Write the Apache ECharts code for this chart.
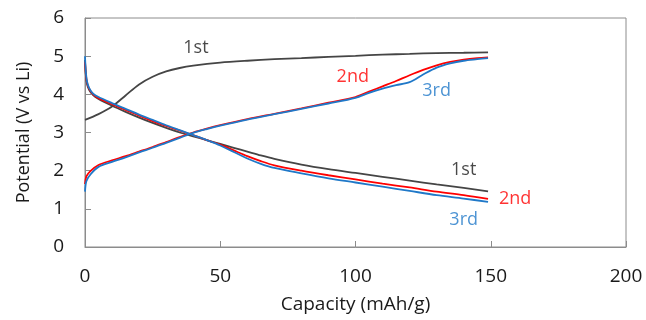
<!DOCTYPE html>
<html>
<head>
<meta charset="utf-8">
<script src="https://cdn.jsdelivr.net/npm/echarts@6/dist/echarts.min.js"></script>
<style>
    html, body { margin: 0; padding: 0; background: #fff; }
    #main { width: 646px; height: 320px; }
</style>
</head>
<body>
<div id="main"></div>
<script>
// 1st charge (own capacity points)
var chargeCap1 = [0, 5, 10, 15, 20, 25, 30, 35, 40, 50, 60, 70, 80, 90, 100, 110, 120, 130, 140, 149];
var chargeV1 = [3.33, 3.48, 3.68, 3.97, 4.26, 4.46, 4.6, 4.69, 4.75, 4.83, 4.88, 4.92, 4.95, 4.98, 5.01, 5.04, 5.06, 5.08, 5.09, 5.1];

// 2nd / 3rd charge
var chargeCap = [0, 0.5, 2, 5, 10, 15, 20, 25, 30, 35, 40, 45, 50, 60, 70, 80, 90, 100, 105, 110, 115, 120, 125, 130, 135, 140, 145, 149];
var chargeV2 = [1.65, 1.85, 1.99, 2.15, 2.27, 2.38, 2.5, 2.62, 2.75, 2.88, 3.0, 3.1, 3.19, 3.35, 3.49, 3.63, 3.78, 3.93, 4.07, 4.21, 4.35, 4.5, 4.64, 4.76, 4.85, 4.91, 4.95, 4.97];
var chargeV3 = [1.45, 1.72, 1.9, 2.1, 2.23, 2.35, 2.48, 2.6, 2.73, 2.86, 2.99, 3.09, 3.18, 3.34, 3.48, 3.62, 3.76, 3.91, 4.04, 4.15, 4.24, 4.32, 4.52, 4.7, 4.81, 4.88, 4.92, 4.95];

// discharge, all three cycles
var dischargeCap = [0, 0.3, 0.7, 1.5, 3, 5, 10, 15, 20, 25, 30, 35, 40, 45, 50, 55, 60, 65, 70, 80, 90, 100, 110, 120, 130, 140, 149];
var dischargeV1 = [4.9, 4.5, 4.28, 4.12, 3.98, 3.88, 3.7, 3.54, 3.39, 3.25, 3.12, 3.0, 2.9, 2.8, 2.7, 2.6, 2.5, 2.4, 2.31, 2.16, 2.04, 1.94, 1.84, 1.74, 1.64, 1.55, 1.46];
var dischargeV2 = [4.85, 4.55, 4.32, 4.15, 4.0, 3.9, 3.74, 3.59, 3.44, 3.3, 3.17, 3.05, 2.93, 2.8, 2.68, 2.53, 2.38, 2.25, 2.14, 2.0, 1.88, 1.77, 1.66, 1.56, 1.45, 1.36, 1.26];
var dischargeV3 = [5.0, 4.6, 4.35, 4.17, 4.02, 3.93, 3.77, 3.62, 3.47, 3.33, 3.19, 3.06, 2.93, 2.8, 2.66, 2.49, 2.32, 2.18, 2.07, 1.93, 1.8, 1.69, 1.58, 1.47, 1.36, 1.27, 1.18];

// cycle labels placed in data coordinates
var tagText = ['1st', '2nd', '3rd', '1st', '2nd', '3rd'];
var tagCap = [41, 99, 130, 140, 159, 140];
var tagV = [5.22, 4.46, 4.09, 2.03, 1.27, 0.72];

var black = '#454545', red = '#ff0000', blue = '#1f78c8';
var tagColor = ['#1a1a1a', red, blue, '#1a1a1a', red, blue];

function zip(xs, ys) {
    var out = [];
    for (var i = 0; i < xs.length; i++) out.push([xs[i], ys[i]]);
    return out;
}

function curve(xs, ys, color) {
    return {
        type: 'line',
        data: zip(xs, ys),
        showSymbol: false,
        smooth: 0.3,
        lineStyle: { color: color, width: 1.8 },
        itemStyle: { color: color }
    };
}

var tags = [];
for (var i = 0; i < tagText.length; i++) {
    tags.push({
        value: [tagCap[i], tagV[i]],
        name: tagText[i],
        label: { color: tagColor[i] }
    });
}

var font = '"Open Sans", sans-serif';
var textColor = '#1a1a1a';
var myChart = echarts.init(document.getElementById('main'));
myChart.setOption({
    animation: false,
    grid: {
        left: 85, right: 20, top: 18, bottom: 73,
        show: true, borderColor: '#8c8c8c', borderWidth: 1
    },
    xAxis: {
        type: 'value',
        min: 0, max: 200, interval: 50,
        name: 'Capacity (mAh/g)',
        nameLocation: 'middle',
        nameGap: 48,
        nameTextStyle: { fontFamily: font, fontSize: 19, color: textColor },
        axisLine: { show: true, lineStyle: { color: '#8c8c8c' } },
        axisTick: { show: true, inside: true, length: 6, lineStyle: { color: '#8c8c8c' } },
        axisLabel: { fontFamily: font, fontSize: 19, color: textColor, margin: 20 },
        splitLine: { show: false }
    },
    yAxis: {
        type: 'value',
        min: 0, max: 6, interval: 1,
        name: 'Potential (V vs Li)',
        nameLocation: 'middle',
        nameGap: 52,
        nameTextStyle: { fontFamily: font, fontSize: 18, color: textColor },
        axisLine: { show: true, lineStyle: { color: '#8c8c8c' } },
        axisTick: { show: true, inside: true, length: 6, lineStyle: { color: '#8c8c8c' } },
        axisLabel: { fontFamily: font, fontSize: 19, color: textColor, margin: 21 },
        splitLine: { show: false }
    },
    series: [
        curve(chargeCap1, chargeV1, black),
        curve(dischargeCap, dischargeV1, black),
        curve(chargeCap, chargeV2, red),
        curve(dischargeCap, dischargeV2, red),
        curve(chargeCap, chargeV3, blue),
        curve(dischargeCap, dischargeV3, blue),
        {
            type: 'scatter',
            symbolSize: 0,
            data: tags,
            label: {
                show: true,
                position: 'inside',
                formatter: '{b}',
                fontFamily: font,
                fontSize: 18
            }
        }
    ]
});
</script>
</body>
</html>
